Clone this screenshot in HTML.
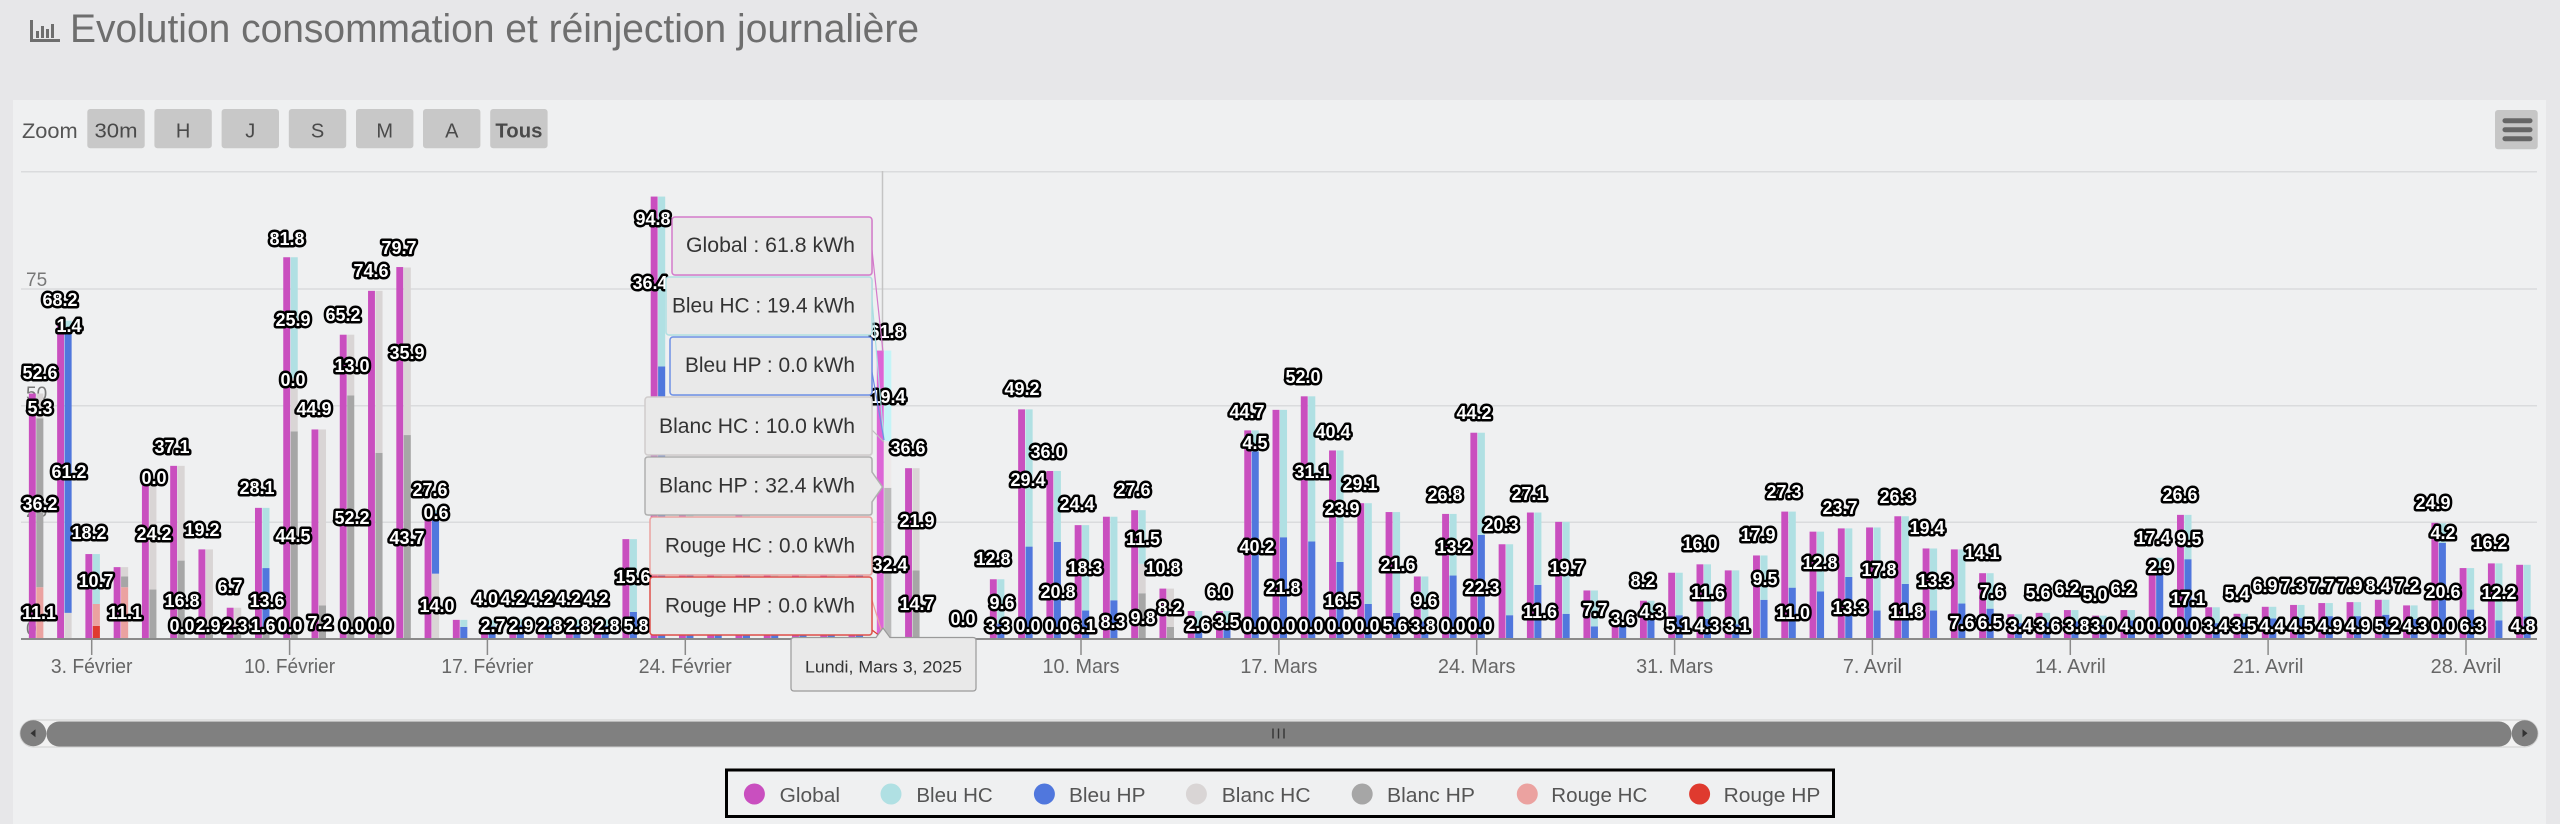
<!DOCTYPE html>
<html><head><meta charset="utf-8"><style>
html,body{margin:0;padding:0;background:#e7e7e9;}
body{width:2560px;height:824px;overflow:hidden;}
svg{display:block;font-family:"Liberation Sans",sans-serif;}
.G{fill:#c94fbf}.a{fill:#b0e0e3}.b{fill:#5077dd}.c{fill:#d9d5d5}.d{fill:#a6a6a6}.e{fill:#eba2a0}.f{fill:#df3a2f}
.Gh{fill:#dd66d6}.ah{fill:#c4f4f7}.ch{fill:#ede9e9}.dh{fill:#bababa}
.dl text{font-weight:bold;font-size:18px;fill:#fff;stroke:#000;stroke-width:5px;stroke-linejoin:round;paint-order:stroke;text-anchor:middle}
.xl text{font-size:20px;fill:#666;text-anchor:middle}
.yl text{font-size:19px;fill:#787878}
.bt text{font-size:20px;fill:#4a4a4a;text-anchor:middle}
.tt text{font-size:21px;fill:#333;text-anchor:end}
.lg text{font-size:20px;fill:#555}
</style></head><body>
<svg width="2560" height="824" viewBox="0 0 2560 824" xmlns="http://www.w3.org/2000/svg">
<rect x="0" y="0" width="2560" height="824" fill="#e7e7e9"/>
<rect x="13" y="100" width="2533" height="724" fill="#eff0f1"/>

<!-- title -->
<g fill="#6e6e6e">
<rect x="30" y="20" width="3" height="22"/><rect x="30" y="39" width="30" height="3"/>
<rect x="36" y="31" width="3" height="7"/><rect x="41" y="26" width="3" height="12"/><rect x="46" y="29" width="3" height="9"/><rect x="51" y="24" width="3" height="14"/>
</g>
<text x="70" y="42" font-size="40" fill="#6e6e6e" textLength="849" lengthAdjust="spacingAndGlyphs">Evolution consommation et réinjection journalière</text>

<!-- zoom buttons -->
<text x="22" y="138" font-size="21" fill="#555" textLength="55.7" lengthAdjust="spacingAndGlyphs">Zoom</text>
<g fill="#c8c8c8">
<rect x="87.3" y="109" width="57.4" height="39.3" rx="3"/>
<rect x="154.4" y="109" width="57.4" height="39.3" rx="3"/>
<rect x="221.6" y="109" width="57.4" height="39.3" rx="3"/>
<rect x="288.8" y="109" width="57.4" height="39.3" rx="3"/>
<rect x="356" y="109" width="57.4" height="39.3" rx="3"/>
<rect x="423" y="109" width="57.4" height="39.3" rx="3"/>
<rect x="490.2" y="109" width="57.4" height="39.3" rx="3"/>
</g>
<g class="bt">
<text x="116" y="137.5" textLength="43" lengthAdjust="spacingAndGlyphs">30m</text>
<text x="183.1" y="137.5">H</text>
<text x="250.3" y="137.5">J</text>
<text x="317.5" y="137.5">S</text>
<text x="384.7" y="137.5">M</text>
<text x="451.8" y="137.5">A</text>
<text x="518.9" y="137.5" font-weight="bold" fill="#444" textLength="47" lengthAdjust="spacingAndGlyphs">Tous</text>
</g>

<!-- menu button -->
<rect x="2495" y="110" width="42.7" height="39.3" rx="3" fill="#c6c6c6"/>
<g fill="#666"><rect x="2502.5" y="118.2" width="30" height="5" rx="2.5"/><rect x="2502.5" y="127.2" width="30" height="5" rx="2.5"/><rect x="2502.5" y="136.2" width="30" height="5" rx="2.5"/></g>

<!-- grid -->
<g stroke="#dadbdd" stroke-width="1.5">
<line x1="21" y1="171.7" x2="2537" y2="171.7"/>
<line x1="21" y1="289" x2="2537" y2="289"/>
<line x1="21" y1="405.7" x2="2537" y2="405.7"/>
<line x1="21" y1="522.3" x2="2537" y2="522.3"/>
</g>
<g class="yl">
<text x="26" y="286">75</text><text x="26" y="400">50</text><text x="26" y="517">25</text><text x="26" y="635">0</text>
</g>

<!-- crosshair -->
<line x1="882.5" y1="171" x2="882.5" y2="639" stroke="#c4c4c4" stroke-width="1.5"/>

<!-- bars -->
<g transform="translate(35.17 639) scale(28.265 -4.667)">
<g transform="translate(0)"><rect class="G" x="-.223" width=".244" height="52.6"/><rect class="e" x=".039" width=".251" height="11.1"/><rect class="d" x=".039" width=".251" y="11.1" height="36.2"/><rect class="c" x=".039" width=".251" y="47.3" height="5.3"/></g>
<g transform="translate(1)"><rect class="G" x="-.223" width=".244" height="68.2"/><rect class="c" x=".039" width=".251" height="5.6"/><rect class="b" x=".039" width=".251" y="5.6" height="61.2"/><rect class="a" x=".039" width=".251" y="66.8" height="1.4"/></g>
<g transform="translate(2)"><rect class="G" x="-.223" width=".244" height="18.2"/><rect class="f" x=".039" width=".251" height="2.8"/><rect class="e" x=".039" width=".251" y="2.8" height="4.7"/><rect class="a" x=".039" width=".251" y="7.5" height="10.7"/></g>
<g transform="translate(3)"><rect class="G" x="-.223" width=".244" height="15.4"/><rect class="e" x=".039" width=".251" height="11.1"/><rect class="d" x=".039" width=".251" y="11.1" height="2.3"/><rect class="c" x=".039" width=".251" y="13.4" height="2.0"/></g>
<g transform="translate(4)"><rect class="G" x="-.223" width=".244" height="34.8"/><rect class="d" x=".039" width=".251" height="10.6"/><rect class="c" x=".039" width=".251" y="10.6" height="24.2"/></g>
<g transform="translate(5)"><rect class="G" x="-.223" width=".244" height="37.1"/><rect class="d" x=".039" width=".251" height="16.8"/><rect class="c" x=".039" width=".251" y="16.8" height="20.3"/></g>
<g transform="translate(6)"><rect class="G" x="-.223" width=".244" height="19.2"/><rect class="d" x=".039" width=".251" height="2.9"/><rect class="c" x=".039" width=".251" y="2.9" height="16.3"/></g>
<g transform="translate(7)"><rect class="G" x="-.223" width=".244" height="6.7"/><rect class="d" x=".039" width=".251" height="2.3"/><rect class="c" x=".039" width=".251" y="2.3" height="4.4"/></g>
<g transform="translate(8)"><rect class="G" x="-.223" width=".244" height="28.1"/><rect class="d" x=".039" width=".251" height="1.6"/><rect class="b" x=".039" width=".251" y="1.6" height="13.6"/><rect class="a" x=".039" width=".251" y="15.2" height="12.9"/></g>
<g transform="translate(9)"><rect class="G" x="-.223" width=".244" height="81.8"/><rect class="d" x=".039" width=".251" height="44.5"/><rect class="c" x=".039" width=".251" y="44.5" height="11.4"/><rect class="a" x=".039" width=".251" y="55.9" height="25.9"/></g>
<g transform="translate(10)"><rect class="G" x="-.223" width=".244" height="44.9"/><rect class="d" x=".039" width=".251" height="7.2"/><rect class="c" x=".039" width=".251" y="7.2" height="37.7"/></g>
<g transform="translate(11)"><rect class="G" x="-.223" width=".244" height="65.2"/><rect class="d" x=".039" width=".251" height="52.2"/><rect class="c" x=".039" width=".251" y="52.2" height="13.0"/></g>
<g transform="translate(12)"><rect class="G" x="-.223" width=".244" height="74.6"/><rect class="d" x=".039" width=".251" height="39.9"/><rect class="c" x=".039" width=".251" y="39.9" height="34.7"/></g>
<g transform="translate(13)"><rect class="G" x="-.223" width=".244" height="79.7"/><rect class="d" x=".039" width=".251" height="43.7"/><rect class="c" x=".039" width=".251" y="43.7" height="35.9"/></g>
<g transform="translate(14)"><rect class="G" x="-.223" width=".244" height="27.6"/><rect class="c" x=".039" width=".251" height="14.0"/><rect class="b" x=".039" width=".251" y="14" height="13.0"/><rect class="a" x=".039" width=".251" y="27" height="0.6"/></g>
<g transform="translate(15)"><rect class="G" x="-.223" width=".244" height="4.1"/><rect class="b" x=".039" width=".251" height="2.6"/><rect class="a" x=".039" width=".251" y="2.6" height="1.5"/></g>
<g transform="translate(16)"><rect class="G" x="-.223" width=".244" height="4.0"/><rect class="b" x=".039" width=".251" height="2.7"/><rect class="a" x=".039" width=".251" y="2.7" height="1.3"/></g>
<g transform="translate(17)"><rect class="G" x="-.223" width=".244" height="4.2"/><rect class="b" x=".039" width=".251" height="2.9"/><rect class="a" x=".039" width=".251" y="2.9" height="1.3"/></g>
<g transform="translate(18)"><rect class="G" x="-.223" width=".244" height="4.2"/><rect class="b" x=".039" width=".251" height="2.8"/><rect class="a" x=".039" width=".251" y="2.8" height="1.4"/></g>
<g transform="translate(19)"><rect class="G" x="-.223" width=".244" height="4.2"/><rect class="b" x=".039" width=".251" height="2.8"/><rect class="a" x=".039" width=".251" y="2.8" height="1.4"/></g>
<g transform="translate(20)"><rect class="G" x="-.223" width=".244" height="4.2"/><rect class="b" x=".039" width=".251" height="2.8"/><rect class="a" x=".039" width=".251" y="2.8" height="1.4"/></g>
<g transform="translate(21)"><rect class="G" x="-.223" width=".244" height="21.4"/><rect class="b" x=".039" width=".251" height="5.8"/><rect class="a" x=".039" width=".251" y="5.8" height="15.6"/></g>
<g transform="translate(22)"><rect class="G" x="-.223" width=".244" height="94.8"/><rect class="b" x=".039" width=".251" height="58.4"/><rect class="a" x=".039" width=".251" y="58.4" height="36.4"/></g>
<g transform="translate(23)"><rect class="G" x="-.223" width=".244" height="30"/><rect class="b" x=".039" width=".251" height="16"/><rect class="a" x=".039" width=".251" y="16" height="14"/></g>
<g transform="translate(24)"><rect class="G" x="-.223" width=".244" height="22"/><rect class="b" x=".039" width=".251" height="12"/><rect class="a" x=".039" width=".251" y="12" height="10"/></g>
<g transform="translate(25)"><rect class="G" x="-.223" width=".244" height="28"/><rect class="b" x=".039" width=".251" height="16"/><rect class="a" x=".039" width=".251" y="16" height="12"/></g>
<g transform="translate(26)"><rect class="G" x="-.223" width=".244" height="18"/><rect class="b" x=".039" width=".251" height="10"/><rect class="a" x=".039" width=".251" y="10" height="8"/></g>
<g transform="translate(27)"><rect class="G" x="-.223" width=".244" height="24"/><rect class="b" x=".039" width=".251" height="13"/><rect class="a" x=".039" width=".251" y="13" height="11"/></g>
<g transform="translate(28)"><rect class="G" x="-.223" width=".244" height="20"/><rect class="b" x=".039" width=".251" height="11"/><rect class="a" x=".039" width=".251" y="11" height="9"/></g>
<g transform="translate(29)"><rect class="G" x="-.223" width=".244" height="26"/><rect class="b" x=".039" width=".251" height="14"/><rect class="a" x=".039" width=".251" y="14" height="12"/></g>
<g transform="translate(30)"><rect class="Gh" x="-.223" width=".244" height="61.8"/><rect class="dh" x=".039" width=".251" height="32.4"/><rect class="ch" x=".039" width=".251" y="32.4" height="10.0"/><rect class="ah" x=".039" width=".251" y="42.4" height="19.4"/></g>
<g transform="translate(31)"><rect class="G" x="-.223" width=".244" height="36.6"/><rect class="d" x=".039" width=".251" height="14.7"/><rect class="c" x=".039" width=".251" y="14.7" height="21.9"/></g>
<g transform="translate(34)"><rect class="G" x="-.223" width=".244" height="12.8"/><rect class="b" x=".039" width=".251" height="3.3"/><rect class="a" x=".039" width=".251" y="3.3" height="9.5"/></g>
<g transform="translate(35)"><rect class="G" x="-.223" width=".244" height="49.2"/><rect class="b" x=".039" width=".251" height="19.8"/><rect class="a" x=".039" width=".251" y="19.8" height="29.4"/></g>
<g transform="translate(36)"><rect class="G" x="-.223" width=".244" height="36.0"/><rect class="b" x=".039" width=".251" height="20.8"/><rect class="a" x=".039" width=".251" y="20.8" height="15.2"/></g>
<g transform="translate(37)"><rect class="G" x="-.223" width=".244" height="24.4"/><rect class="b" x=".039" width=".251" height="6.1"/><rect class="a" x=".039" width=".251" y="6.1" height="18.3"/></g>
<g transform="translate(38)"><rect class="G" x="-.223" width=".244" height="26.2"/><rect class="b" x=".039" width=".251" height="8.3"/><rect class="a" x=".039" width=".251" y="8.3" height="17.9"/></g>
<g transform="translate(39)"><rect class="G" x="-.223" width=".244" height="27.6"/><rect class="d" x=".039" width=".251" height="9.8"/><rect class="c" x=".039" width=".251" y="9.8" height="6.3"/><rect class="a" x=".039" width=".251" y="16.1" height="11.5"/></g>
<g transform="translate(40)"><rect class="G" x="-.223" width=".244" height="10.8"/><rect class="d" x=".039" width=".251" height="2.6"/><rect class="c" x=".039" width=".251" y="2.6" height="8.2"/></g>
<g transform="translate(41)"><rect class="G" x="-.223" width=".244" height="6.0"/><rect class="b" x=".039" width=".251" height="2.6"/><rect class="a" x=".039" width=".251" y="2.6" height="3.4"/></g>
<g transform="translate(42)"><rect class="G" x="-.223" width=".244" height="6.0"/><rect class="b" x=".039" width=".251" height="3.5"/><rect class="a" x=".039" width=".251" y="3.5" height="2.5"/></g>
<g transform="translate(43)"><rect class="G" x="-.223" width=".244" height="44.7"/><rect class="b" x=".039" width=".251" height="40.2"/><rect class="a" x=".039" width=".251" y="40.2" height="4.5"/></g>
<g transform="translate(44)"><rect class="G" x="-.223" width=".244" height="49.1"/><rect class="b" x=".039" width=".251" height="21.8"/><rect class="a" x=".039" width=".251" y="21.8" height="27.3"/></g>
<g transform="translate(45)"><rect class="G" x="-.223" width=".244" height="52.0"/><rect class="b" x=".039" width=".251" height="20.9"/><rect class="a" x=".039" width=".251" y="20.9" height="31.1"/></g>
<g transform="translate(46)"><rect class="G" x="-.223" width=".244" height="40.4"/><rect class="b" x=".039" width=".251" height="16.5"/><rect class="a" x=".039" width=".251" y="16.5" height="23.9"/></g>
<g transform="translate(47)"><rect class="G" x="-.223" width=".244" height="29.1"/><rect class="b" x=".039" width=".251" height="7.5"/><rect class="a" x=".039" width=".251" y="7.5" height="21.6"/></g>
<g transform="translate(48)"><rect class="G" x="-.223" width=".244" height="27.2"/><rect class="b" x=".039" width=".251" height="5.6"/><rect class="a" x=".039" width=".251" y="5.6" height="21.6"/></g>
<g transform="translate(49)"><rect class="G" x="-.223" width=".244" height="13.4"/><rect class="b" x=".039" width=".251" height="3.8"/><rect class="a" x=".039" width=".251" y="3.8" height="9.6"/></g>
<g transform="translate(50)"><rect class="G" x="-.223" width=".244" height="26.8"/><rect class="b" x=".039" width=".251" height="13.6"/><rect class="a" x=".039" width=".251" y="13.6" height="13.2"/></g>
<g transform="translate(51)"><rect class="G" x="-.223" width=".244" height="44.2"/><rect class="b" x=".039" width=".251" height="22.3"/><rect class="a" x=".039" width=".251" y="22.3" height="21.9"/></g>
<g transform="translate(52)"><rect class="G" x="-.223" width=".244" height="20.3"/><rect class="b" x=".039" width=".251" height="5.1"/><rect class="a" x=".039" width=".251" y="5.1" height="15.2"/></g>
<g transform="translate(53)"><rect class="G" x="-.223" width=".244" height="27.1"/><rect class="b" x=".039" width=".251" height="11.6"/><rect class="a" x=".039" width=".251" y="11.6" height="15.5"/></g>
<g transform="translate(54)"><rect class="G" x="-.223" width=".244" height="25.1"/><rect class="b" x=".039" width=".251" height="5.4"/><rect class="a" x=".039" width=".251" y="5.4" height="19.7"/></g>
<g transform="translate(55)"><rect class="G" x="-.223" width=".244" height="10.4"/><rect class="b" x=".039" width=".251" height="2.7"/><rect class="a" x=".039" width=".251" y="2.7" height="7.7"/></g>
<g transform="translate(56)"><rect class="G" x="-.223" width=".244" height="3.6"/><rect class="b" x=".039" width=".251" height="3.6"/></g>
<g transform="translate(57)"><rect class="G" x="-.223" width=".244" height="8.2"/><rect class="b" x=".039" width=".251" height="4.3"/><rect class="a" x=".039" width=".251" y="4.3" height="3.9"/></g>
<g transform="translate(58)"><rect class="G" x="-.223" width=".244" height="14.2"/><rect class="b" x=".039" width=".251" height="5.1"/><rect class="a" x=".039" width=".251" y="5.1" height="9.1"/></g>
<g transform="translate(59)"><rect class="G" x="-.223" width=".244" height="16.0"/><rect class="b" x=".039" width=".251" height="4.3"/><rect class="a" x=".039" width=".251" y="4.3" height="11.7"/></g>
<g transform="translate(60)"><rect class="G" x="-.223" width=".244" height="14.7"/><rect class="b" x=".039" width=".251" height="3.1"/><rect class="a" x=".039" width=".251" y="3.1" height="11.6"/></g>
<g transform="translate(61)"><rect class="G" x="-.223" width=".244" height="17.9"/><rect class="b" x=".039" width=".251" height="8.4"/><rect class="a" x=".039" width=".251" y="8.4" height="9.5"/></g>
<g transform="translate(62)"><rect class="G" x="-.223" width=".244" height="27.3"/><rect class="b" x=".039" width=".251" height="11.0"/><rect class="a" x=".039" width=".251" y="11" height="16.3"/></g>
<g transform="translate(63)"><rect class="G" x="-.223" width=".244" height="23.0"/><rect class="b" x=".039" width=".251" height="10.2"/><rect class="a" x=".039" width=".251" y="10.2" height="12.8"/></g>
<g transform="translate(64)"><rect class="G" x="-.223" width=".244" height="23.7"/><rect class="b" x=".039" width=".251" height="13.3"/><rect class="a" x=".039" width=".251" y="13.3" height="10.4"/></g>
<g transform="translate(65)"><rect class="G" x="-.223" width=".244" height="23.9"/><rect class="b" x=".039" width=".251" height="6.1"/><rect class="a" x=".039" width=".251" y="6.1" height="17.8"/></g>
<g transform="translate(66)"><rect class="G" x="-.223" width=".244" height="26.3"/><rect class="b" x=".039" width=".251" height="11.8"/><rect class="a" x=".039" width=".251" y="11.8" height="14.5"/></g>
<g transform="translate(67)"><rect class="G" x="-.223" width=".244" height="19.4"/><rect class="b" x=".039" width=".251" height="6.1"/><rect class="a" x=".039" width=".251" y="6.1" height="13.3"/></g>
<g transform="translate(68)"><rect class="G" x="-.223" width=".244" height="19.2"/><rect class="b" x=".039" width=".251" height="7.6"/><rect class="a" x=".039" width=".251" y="7.6" height="11.6"/></g>
<g transform="translate(69)"><rect class="G" x="-.223" width=".244" height="14.1"/><rect class="b" x=".039" width=".251" height="6.5"/><rect class="a" x=".039" width=".251" y="6.5" height="7.6"/></g>
<g transform="translate(70)"><rect class="G" x="-.223" width=".244" height="5.3"/><rect class="b" x=".039" width=".251" height="3.4"/><rect class="a" x=".039" width=".251" y="3.4" height="1.9"/></g>
<g transform="translate(71)"><rect class="G" x="-.223" width=".244" height="5.6"/><rect class="b" x=".039" width=".251" height="3.6"/><rect class="a" x=".039" width=".251" y="3.6" height="2.0"/></g>
<g transform="translate(72)"><rect class="G" x="-.223" width=".244" height="6.2"/><rect class="b" x=".039" width=".251" height="3.8"/><rect class="a" x=".039" width=".251" y="3.8" height="2.4"/></g>
<g transform="translate(73)"><rect class="G" x="-.223" width=".244" height="5.0"/><rect class="b" x=".039" width=".251" height="3.0"/><rect class="a" x=".039" width=".251" y="3" height="2.0"/></g>
<g transform="translate(74)"><rect class="G" x="-.223" width=".244" height="6.2"/><rect class="b" x=".039" width=".251" height="4.0"/><rect class="a" x=".039" width=".251" y="4" height="2.2"/></g>
<g transform="translate(75)"><rect class="G" x="-.223" width=".244" height="17.4"/><rect class="b" x=".039" width=".251" height="14.5"/><rect class="a" x=".039" width=".251" y="14.5" height="2.9"/></g>
<g transform="translate(76)"><rect class="G" x="-.223" width=".244" height="26.6"/><rect class="b" x=".039" width=".251" height="17.1"/><rect class="a" x=".039" width=".251" y="17.1" height="9.5"/></g>
<g transform="translate(77)"><rect class="G" x="-.223" width=".244" height="6.8"/><rect class="b" x=".039" width=".251" height="3.4"/><rect class="a" x=".039" width=".251" y="3.4" height="3.4"/></g>
<g transform="translate(78)"><rect class="G" x="-.223" width=".244" height="5.4"/><rect class="b" x=".039" width=".251" height="3.5"/><rect class="a" x=".039" width=".251" y="3.5" height="1.9"/></g>
<g transform="translate(79)"><rect class="G" x="-.223" width=".244" height="6.9"/><rect class="b" x=".039" width=".251" height="4.4"/><rect class="a" x=".039" width=".251" y="4.4" height="2.5"/></g>
<g transform="translate(80)"><rect class="G" x="-.223" width=".244" height="7.3"/><rect class="b" x=".039" width=".251" height="4.5"/><rect class="a" x=".039" width=".251" y="4.5" height="2.8"/></g>
<g transform="translate(81)"><rect class="G" x="-.223" width=".244" height="7.7"/><rect class="b" x=".039" width=".251" height="4.9"/><rect class="a" x=".039" width=".251" y="4.9" height="2.8"/></g>
<g transform="translate(82)"><rect class="G" x="-.223" width=".244" height="7.9"/><rect class="b" x=".039" width=".251" height="4.9"/><rect class="a" x=".039" width=".251" y="4.9" height="3.0"/></g>
<g transform="translate(83)"><rect class="G" x="-.223" width=".244" height="8.4"/><rect class="b" x=".039" width=".251" height="5.2"/><rect class="a" x=".039" width=".251" y="5.2" height="3.2"/></g>
<g transform="translate(84)"><rect class="G" x="-.223" width=".244" height="7.2"/><rect class="b" x=".039" width=".251" height="4.3"/><rect class="a" x=".039" width=".251" y="4.3" height="2.9"/></g>
<g transform="translate(85)"><rect class="G" x="-.223" width=".244" height="24.9"/><rect class="b" x=".039" width=".251" height="20.6"/><rect class="a" x=".039" width=".251" y="20.6" height="4.2"/></g>
<g transform="translate(86)"><rect class="G" x="-.223" width=".244" height="15.2"/><rect class="b" x=".039" width=".251" height="6.3"/><rect class="a" x=".039" width=".251" y="6.3" height="8.9"/></g>
<g transform="translate(87)"><rect class="G" x="-.223" width=".244" height="16.2"/><rect class="b" x=".039" width=".251" height="4.0"/><rect class="a" x=".039" width=".251" y="4" height="12.2"/></g>
<g transform="translate(88)"><rect class="G" x="-.223" width=".244" height="15.9"/><rect class="b" x=".039" width=".251" height="4.8"/><rect class="a" x=".039" width=".251" y="4.8" height="11.1"/></g>
</g>

<!-- x axis -->
<line x1="21" y1="639" x2="2537" y2="639" stroke="#8a8a8a" stroke-width="2"/>
<g stroke="#8a8a8a" stroke-width="1.5">
<line x1="91.7" y1="639" x2="91.7" y2="655"/><line x1="289.6" y1="639" x2="289.6" y2="655"/><line x1="487.4" y1="639" x2="487.4" y2="655"/><line x1="685.3" y1="639" x2="685.3" y2="655"/><line x1="1081" y1="639" x2="1081" y2="655"/><line x1="1278.9" y1="639" x2="1278.9" y2="655"/><line x1="1476.7" y1="639" x2="1476.7" y2="655"/><line x1="1674.6" y1="639" x2="1674.6" y2="655"/><line x1="1872.4" y1="639" x2="1872.4" y2="655"/><line x1="2070.3" y1="639" x2="2070.3" y2="655"/><line x1="2268.1" y1="639" x2="2268.1" y2="655"/><line x1="2466" y1="639" x2="2466" y2="655"/>
</g>
<g class="xl">
<text x="91.7" y="673" textLength="81.6" lengthAdjust="spacingAndGlyphs">3. Février</text>
<text x="289.6" y="673" textLength="91" lengthAdjust="spacingAndGlyphs">10. Février</text>
<text x="487.4" y="673" textLength="92" lengthAdjust="spacingAndGlyphs">17. Février</text>
<text x="685.3" y="673" textLength="93" lengthAdjust="spacingAndGlyphs">24. Février</text>
<text x="1081" y="673" textLength="77" lengthAdjust="spacingAndGlyphs">10. Mars</text>
<text x="1278.9" y="673" textLength="77" lengthAdjust="spacingAndGlyphs">17. Mars</text>
<text x="1476.7" y="673" textLength="77.7" lengthAdjust="spacingAndGlyphs">24. Mars</text>
<text x="1674.6" y="673" textLength="77" lengthAdjust="spacingAndGlyphs">31. Mars</text>
<text x="1872.4" y="673" textLength="59" lengthAdjust="spacingAndGlyphs">7. Avril</text>
<text x="2070.3" y="673" textLength="70.7" lengthAdjust="spacingAndGlyphs">14. Avril</text>
<text x="2268.1" y="673" textLength="70.7" lengthAdjust="spacingAndGlyphs">21. Avril</text>
<text x="2466" y="673" textLength="70.7" lengthAdjust="spacingAndGlyphs">28. Avril</text>
</g>

<!-- data labels -->
<g class="dl">
<text x="40" y="379">52.6</text><text x="40" y="414">5.3</text><text x="40" y="510">36.2</text><text x="39" y="619">11.1</text>
<text x="60" y="306">68.2</text><text x="69" y="332">1.4</text><text x="69" y="478">61.2</text>
<text x="89" y="539">18.2</text><text x="96" y="587">10.7</text>
<text x="125" y="619">11.1</text>
<text x="154" y="484">0.0</text><text x="154" y="540">24.2</text>
<text x="172" y="453">37.1</text><text x="182" y="607">16.8</text><text x="182" y="632">0.0</text>
<text x="202" y="536">19.2</text><text x="208" y="632">2.9</text>
<text x="230" y="593">6.7</text><text x="235" y="632">2.3</text>
<text x="257" y="494">28.1</text><text x="267" y="607">13.6</text><text x="263" y="632">1.6</text>
<text x="287" y="245">81.8</text><text x="293" y="326">25.9</text><text x="293" y="386">0.0</text><text x="293" y="542">44.5</text><text x="290" y="632">0.0</text>
<text x="314" y="415">44.9</text><text x="320" y="629">7.2</text>
<text x="343" y="321">65.2</text><text x="352" y="372">13.0</text><text x="352" y="524">52.2</text><text x="352" y="632">0.0</text>
<text x="371" y="277">74.6</text><text x="380" y="632">0.0</text>
<text x="399" y="254">79.7</text><text x="407" y="359">35.9</text><text x="407" y="544">43.7</text>
<text x="430" y="496">27.6</text><text x="436" y="519">0.6</text><text x="437" y="612">14.0</text>
<text x="485.5" y="605">4.0</text><text x="513" y="605">4.2</text><text x="541" y="605">4.2</text><text x="568.5" y="605">4.2</text><text x="596" y="605">4.2</text>
<text x="493" y="632">2.7</text><text x="521" y="632">2.9</text><text x="550" y="632">2.8</text><text x="578" y="632">2.8</text><text x="607" y="632">2.8</text><text x="636" y="632">5.8</text>
<text x="633" y="583">15.6</text>
<text x="653" y="225">94.8</text><text x="650" y="289">36.4</text>
<text x="887" y="338">61.8</text><text x="888" y="403">19.4</text><text x="890" y="571">32.4</text>
<text x="908" y="454">36.6</text><text x="917" y="527">21.9</text><text x="917" y="610">14.7</text>
<text x="963" y="625">0.0</text>
<text x="993" y="565">12.8</text><text x="1002" y="609">9.6</text><text x="998" y="632">3.3</text>
<text x="1022" y="395">49.2</text><text x="1028" y="486">29.4</text><text x="1028" y="632">0.0</text>
<text x="1048" y="458">36.0</text><text x="1058" y="598">20.8</text><text x="1057" y="632">0.0</text>
<text x="1077" y="510">24.4</text><text x="1085" y="574">18.3</text><text x="1083" y="632">6.1</text>
<text x="1113" y="628">8.3</text>
<text x="1133" y="496">27.6</text><text x="1143" y="545">11.5</text><text x="1143" y="624">9.8</text>
<text x="1163" y="574">10.8</text><text x="1170" y="614">8.2</text>
<text x="1198" y="631">2.6</text>
<text x="1219" y="598">6.0</text><text x="1227" y="628">3.5</text>
<text x="1247" y="418">44.7</text><text x="1255" y="449">4.5</text><text x="1257" y="553">40.2</text><text x="1255" y="632">0.0</text>
<text x="1283" y="594">21.8</text><text x="1283" y="632">0.0</text>
<text x="1303" y="383">52.0</text><text x="1312" y="478">31.1</text><text x="1311" y="632">0.0</text>
<text x="1333" y="438">40.4</text><text x="1342" y="515">23.9</text><text x="1342" y="607">16.5</text><text x="1339" y="632">0.0</text>
<text x="1360" y="490">29.1</text><text x="1367" y="632">0.0</text>
<text x="1398" y="571">21.6</text><text x="1395" y="632">5.6</text>
<text x="1425" y="607">9.6</text><text x="1423" y="632">3.8</text>
<text x="1445" y="501">26.8</text><text x="1454" y="553">13.2</text><text x="1453" y="632">0.0</text>
<text x="1474" y="419">44.2</text><text x="1482" y="594">22.3</text><text x="1480" y="632">0.0</text>
<text x="1501" y="531">20.3</text>
<text x="1529" y="500">27.1</text><text x="1540" y="618">11.6</text>
<text x="1567" y="574">19.7</text>
<text x="1595" y="616">7.7</text>
<text x="1623" y="625">3.6</text>
<text x="1643" y="587">8.2</text><text x="1652" y="618">4.3</text>
<text x="1678" y="632">5.1</text>
<text x="1700" y="550">16.0</text><text x="1708" y="599">11.6</text><text x="1707" y="632">4.3</text>
<text x="1737" y="632">3.1</text>
<text x="1758" y="541">17.9</text><text x="1765" y="585">9.5</text>
<text x="1784" y="498">27.3</text><text x="1793" y="619">11.0</text>
<text x="1820" y="569">12.8</text>
<text x="1840" y="514">23.7</text><text x="1850" y="614">13.3</text>
<text x="1879" y="576">17.8</text>
<text x="1897" y="503">26.3</text><text x="1907" y="618">11.8</text>
<text x="1927" y="534">19.4</text><text x="1935" y="587">13.3</text>
<text x="1962" y="629">7.6</text>
<text x="1982" y="559">14.1</text><text x="1992" y="598">7.6</text><text x="1990" y="629">6.5</text>
<text x="2020" y="632">3.4</text>
<text x="2038" y="599">5.6</text><text x="2048" y="632">3.6</text>
<text x="2067" y="595">6.2</text><text x="2077" y="632">3.8</text>
<text x="2095" y="601">5.0</text><text x="2103" y="632">3.0</text>
<text x="2123" y="595">6.2</text><text x="2132" y="632">4.0</text>
<text x="2153" y="544">17.4</text><text x="2160" y="573">2.9</text><text x="2159" y="632">0.0</text>
<text x="2180" y="501">26.6</text><text x="2189" y="545">9.5</text><text x="2188" y="605">17.1</text><text x="2187" y="632">0.0</text>
<text x="2216" y="632">3.4</text>
<text x="2237" y="600">5.4</text><text x="2244" y="632">3.5</text>
<text x="2265" y="592">6.9</text><text x="2272" y="632">4.4</text>
<text x="2293" y="592">7.3</text><text x="2301" y="632">4.5</text>
<text x="2322" y="592">7.7</text><text x="2330" y="632">4.9</text>
<text x="2350" y="592">7.9</text><text x="2358" y="632">4.9</text>
<text x="2378" y="592">8.4</text><text x="2387" y="632">5.2</text>
<text x="2407" y="592">7.2</text><text x="2415" y="632">4.3</text>
<text x="2433" y="509">24.9</text><text x="2443" y="539">4.2</text><text x="2443" y="598">20.6</text><text x="2443" y="632">0.0</text>
<text x="2472" y="632">6.3</text>
<text x="2490" y="549">16.2</text><text x="2499" y="599">12.2</text>
<text x="2523" y="632">4.8</text>
</g>

<!-- tooltip connectors -->
<g fill="none" stroke-width="1.2">
<line x1="872" y1="250" x2="883" y2="352" stroke="#d47acb"/>
<line x1="872" y1="300" x2="884" y2="440" stroke="#a8dfe3"/>
<line x1="872" y1="372" x2="884" y2="440" stroke="#6d8fe6"/>
<line x1="872" y1="430" x2="884" y2="442" stroke="#bdbdbd"/>
<line x1="872" y1="600" x2="884" y2="639" stroke="#eba2a0"/>
<line x1="872" y1="630" x2="884" y2="639" stroke="#df3a2f"/>
</g>

<!-- tooltip boxes -->
<g>
<rect x="673" y="218" width="200" height="58" rx="3" fill="rgba(0,0,0,0.07)"/>
<rect x="672" y="217" width="200" height="58" rx="3" fill="#e9e9e9" stroke="#d47acb" stroke-width="1.5"/>
<rect x="667" y="278" width="206" height="58" rx="3" fill="rgba(0,0,0,0.07)"/>
<rect x="666" y="277" width="206" height="58" rx="3" fill="#e9e9e9" stroke="#b0e0e3" stroke-width="1.5"/>
<rect x="671" y="338" width="202" height="58" rx="3" fill="rgba(0,0,0,0.07)"/>
<rect x="670" y="337" width="202" height="58" rx="3" fill="#e9e9e9" stroke="#6d8fe6" stroke-width="1.5"/>
<rect x="646" y="398" width="227" height="58" rx="3" fill="rgba(0,0,0,0.07)"/>
<rect x="645" y="397" width="227" height="58" rx="3" fill="#e9e9e9" stroke="#d0cccc" stroke-width="1.5"/>
<rect x="646" y="458" width="227" height="58" rx="3" fill="rgba(0,0,0,0.07)"/>
<path d="M648 457 H869 Q872 457 872 460 V472 L882.5 487 L872 502 V512 Q872 515 869 515 H648 Q645 515 645 512 V460 Q645 457 648 457 Z" fill="#e9e9e9" stroke="#b0b0b0" stroke-width="1.5"/>
<rect x="651" y="518" width="222" height="58" rx="3" fill="rgba(0,0,0,0.07)"/>
<rect x="650" y="517" width="222" height="58" rx="3" fill="#e9e9e9" stroke="#eba2a0" stroke-width="1.5"/>
<rect x="651" y="578" width="222" height="58" rx="3" fill="rgba(0,0,0,0.07)"/>
<rect x="650" y="577" width="222" height="58" rx="3" fill="#e9e9e9" stroke="#e0504a" stroke-width="1.5"/>
</g>
<g class="tt">
<text x="855" y="252" textLength="169" lengthAdjust="spacingAndGlyphs">Global : 61.8 kWh</text>
<text x="855" y="312.5" textLength="183" lengthAdjust="spacingAndGlyphs">Bleu HC : 19.4 kWh</text>
<text x="855" y="372" textLength="170" lengthAdjust="spacingAndGlyphs">Bleu HP : 0.0 kWh</text>
<text x="855" y="433" textLength="196" lengthAdjust="spacingAndGlyphs">Blanc HC : 10.0 kWh</text>
<text x="855" y="492.5" textLength="196" lengthAdjust="spacingAndGlyphs">Blanc HP : 32.4 kWh</text>
<text x="855" y="552.5" textLength="190" lengthAdjust="spacingAndGlyphs">Rouge HC : 0.0 kWh</text>
<text x="855" y="612.5" textLength="190" lengthAdjust="spacingAndGlyphs">Rouge HP : 0.0 kWh</text>
</g>

<!-- date tooltip -->
<path d="M794 637.5 H876 L883 628 L890 637.5 H973 Q976 637.5 976 640.5 V688 Q976 691 973 691 H794 Q791 691 791 688 V640.5 Q791 637.5 794 637.5 Z" fill="#e9e9e9" stroke="#9a9a9a" stroke-width="1.2"/>
<text x="883.5" y="672.5" font-size="17" fill="#333" text-anchor="middle" textLength="157" lengthAdjust="spacingAndGlyphs">Lundi, Mars 3, 2025</text>

<!-- scrollbar -->
<rect x="20" y="720" width="2518" height="27" rx="13.5" fill="#f2f2f2" stroke="#cfcfcf" stroke-width="1"/>
<rect x="46.5" y="721.5" width="2465" height="25" rx="12.5" fill="#808080"/>
<circle cx="33.3" cy="733.3" r="13" fill="#808080"/>
<path d="M30.5 733.3 L35.5 729.3 L35.5 737.3 Z" fill="#333"/>
<circle cx="2524.7" cy="733.3" r="13" fill="#808080"/>
<path d="M2527.5 733.3 L2522.5 729.3 L2522.5 737.3 Z" fill="#333"/>
<g stroke="#333" stroke-width="1.4">
<line x1="1273" y1="728.5" x2="1273" y2="738.5"/><line x1="1278.5" y1="728.5" x2="1278.5" y2="738.5"/><line x1="1284" y1="728.5" x2="1284" y2="738.5"/>
</g>

<!-- legend -->
<rect x="726.5" y="770" width="1107" height="46.5" fill="none" stroke="#000" stroke-width="3"/>
<circle cx="754.4" cy="794" r="10.5" fill="#c94fbf"/>
<circle cx="891" cy="794" r="10.5" fill="#b0e0e3"/>
<circle cx="1044.4" cy="794" r="10.5" fill="#5077dd"/>
<circle cx="1196.4" cy="794" r="10.5" fill="#d9d5d5"/>
<circle cx="1362.2" cy="794" r="10.5" fill="#a6a6a6"/>
<circle cx="1527.3" cy="794" r="10.5" fill="#eba2a0"/>
<circle cx="1699.6" cy="794" r="10.5" fill="#df3a2f"/>
<g class="lg">
<text x="779.6" y="802" textLength="60.4" lengthAdjust="spacingAndGlyphs">Global</text>
<text x="916.4" y="802" textLength="76.3" lengthAdjust="spacingAndGlyphs">Bleu HC</text>
<text x="1069" y="802" textLength="76.5" lengthAdjust="spacingAndGlyphs">Bleu HP</text>
<text x="1221.8" y="802" textLength="88.7" lengthAdjust="spacingAndGlyphs">Blanc HC</text>
<text x="1387" y="802" textLength="88" lengthAdjust="spacingAndGlyphs">Blanc HP</text>
<text x="1551.3" y="802" textLength="96" lengthAdjust="spacingAndGlyphs">Rouge HC</text>
<text x="1723.6" y="802" textLength="96.8" lengthAdjust="spacingAndGlyphs">Rouge HP</text>
</g>
</svg>
</body></html>
